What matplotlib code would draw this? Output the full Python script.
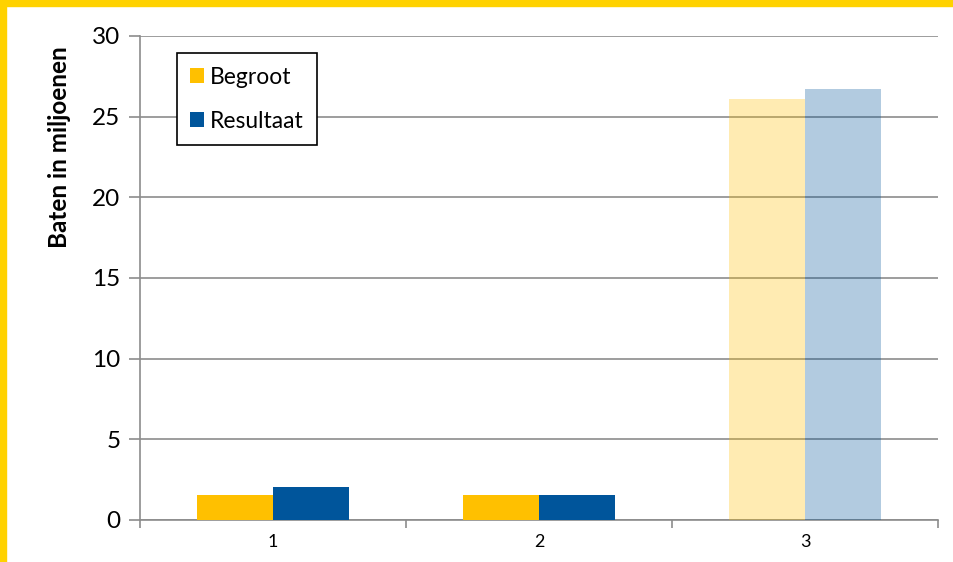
import numpy as np
import matplotlib.pyplot as plt
from matplotlib.patches import Rectangle

# Lato is close to Calibri (Carlito is based on it)
plt.rcParams['font.family'] = ['Lato', 'DejaVu Sans']

# data
categories = ['1', '2', '3']
begroot    = [1.55, 1.55, 26.1]
resultaat  = [2.03, 1.55, 26.7]
# the last group is shown faded
faded      = [False, False, True]

col_begroot   = '#FFC000'
col_resultaat = '#00559B'

fig = plt.figure(figsize=(9.54, 5.62), dpi=100)
ax = fig.add_axes([140/954, 42/562, 798/954, 484/562])

x = np.arange(len(categories))
width = 1 / 3.5

for i in range(len(categories)):
    alpha = 0.3 if faded[i] else 1.0
    ax.bar(x[i] - width/2, begroot[i], width, color=col_begroot, alpha=alpha,
           zorder=3, label='Begroot' if i == 0 else None)
    ax.bar(x[i] + width/2, resultaat[i], width, color=col_resultaat, alpha=alpha,
           zorder=3, label='Resultaat' if i == 0 else None)

# axes cosmetics
ax.set_xlim(-0.5, len(categories) - 0.5)
ax.set_ylim(0, 30)
ax.set_yticks(np.arange(0, 31, 5))
ax.yaxis.grid(True, color='#8c8c8c', linewidth=1.2, zorder=1)
ax.set_axisbelow(True)

ax.set_xticks(x)
ax.set_xticklabels(categories, fontsize=13)
ax.set_xticks(np.arange(-0.5, len(categories)), minor=True)
ax.tick_params(axis='x', which='major', length=0, pad=10)
ax.tick_params(axis='x', which='minor', length=6, width=1.2, color='#8c8c8c')
ax.tick_params(axis='y', length=8, width=1.2, color='#8c8c8c', labelsize=17.5, pad=6)

for side in ['top', 'right']:
    ax.spines[side].set_visible(False)
for side in ['left', 'bottom']:
    ax.spines[side].set_color('#8c8c8c')
    ax.spines[side].set_linewidth(1.2)

fig.text(60/954, 1 - 147/562, 'Baten in miljoenen', rotation=90,
         ha='center', va='center', fontsize=17.5, fontweight='bold')

leg = ax.legend(loc='upper left', bbox_to_anchor=(0.046, 0.965), borderaxespad=0,
                fontsize=16.5, handlelength=0.6, handleheight=0.6, handletextpad=0.25,
                labelspacing=1.0, fancybox=False, framealpha=1, borderpad=0.6)
leg.get_frame().set_edgecolor('black')
leg.get_frame().set_linewidth(1.2)

# gold border on the top and left edges of the picture
fig.patches.append(Rectangle((0, 1 - 6/562), 1, 6/562, transform=fig.transFigure,
                             color='#FFD200', zorder=10))
fig.patches.append(Rectangle((0, 0), 6/954, 1, transform=fig.transFigure,
                             color='#FFD200', zorder=10))

plt.savefig('out.png', dpi=100)
